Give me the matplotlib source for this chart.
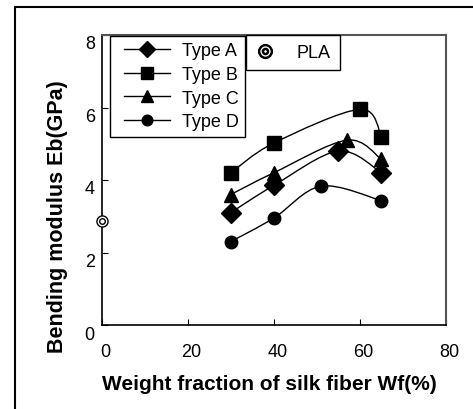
import numpy as np
import matplotlib
matplotlib.use("Agg")
import matplotlib.pyplot as plt
from matplotlib.path import Path
from matplotlib.patches import PathPatch, Rectangle
from matplotlib.lines import Line2D
from matplotlib.legend_handler import HandlerLine2D
from matplotlib.transforms import ScaledTranslation

plt.rcParams['font.family'] = ['Liberation Sans', 'DejaVu Sans']

# ---- data ----
series_names = ["Type A", "Type B", "Type C", "Type D"]
x_A = [30, 40, 55, 65]
y_A = [3.1, 3.85, 4.8, 4.2]
x_B = [30, 40, 60, 65]
y_B = [4.2, 5.02, 5.95, 5.2]
x_C = [30, 40, 57, 65]
y_C = [3.6, 4.2, 5.1, 4.57]
x_D = [30, 40, 51, 65]
y_D = [2.3, 2.95, 3.83, 3.43]
pla_x = [0]
pla_y = [2.88]
x_ticks = [0, 20, 40, 60, 80]
y_ticks = [0, 2, 4, 6, 8]

W, H = 473, 410
fig = plt.figure(figsize=(W / 100, H / 100), dpi=100)
ax = fig.add_axes([101.7 / W, 1 - 326 / H, (446 - 101.7) / W, (326 - 36) / H])
ax.set_xlim(0, 80)
ax.set_ylim(0, 8)


def smooth_path(xs, ys, t=1 / 6):
    pts = np.column_stack([xs, ys]).astype(float)
    n = len(pts)
    verts = [pts[0]]
    codes = [Path.MOVETO]
    for i in range(n - 1):
        p0 = pts[i - 1] if i > 0 else pts[i]
        p1 = pts[i]
        p2 = pts[i + 1]
        p3 = pts[i + 2] if i + 2 < n else pts[i + 1]
        c1 = p1 + (p2 - p0) * t
        c2 = p2 - (p3 - p1) * t
        verts += [c1, c2, p2]
        codes += [Path.CURVE4] * 3
    return Path(verts, codes)


styles = [("D", 10), ("s", 9.5), ("^", 10.5), ("o", 9)]
data = [(x_A, y_A), (x_B, y_B), (x_C, y_C), (x_D, y_D)]
handles = []
for (xs, ys), (m, ms), name in zip(data, styles, series_names):
    ax.add_patch(PathPatch(smooth_path(xs, ys), fill=False, edgecolor='black', lw=1.0, zorder=2))
    ax.plot(xs, ys, linestyle='none', marker=m, markersize=ms, color='black', zorder=3, clip_on=False)
    handles.append(Line2D([], [], color='black', lw=1.0, marker=m, markersize=ms * 0.85, label=name))

# PLA double-circle marker
ax.plot(pla_x, pla_y, linestyle='none', marker='o', markersize=8, markerfacecolor='white',
        markeredgecolor='black', markeredgewidth=1.0, clip_on=False, zorder=4)
ax.plot(pla_x, pla_y, linestyle='none', marker='o', markersize=4, markerfacecolor='none',
        markeredgecolor='black', markeredgewidth=1.0, clip_on=False, zorder=5)

ax.set_xticks(x_ticks)
ax.set_yticks(y_ticks)
ax.tick_params(direction='in', length=4, width=0.8, labelsize=13, color='black')
ax.tick_params(axis='y', pad=5)
ax.tick_params(axis='x', pad=13)
for lab in ax.get_yticklabels():
    lab.set_transform(lab.get_transform() + ScaledTranslation(0, -0.07, fig.dpi_scale_trans))
for lab in ax.get_xticklabels():
    lab.set_transform(lab.get_transform() + ScaledTranslation(0.035, 0, fig.dpi_scale_trans))

for s in ['left', 'bottom']:
    ax.spines[s].set_color('black')
    ax.spines[s].set_linewidth(1.2)
for s in ['top', 'right']:
    ax.spines[s].set_color('#555555')
    ax.spines[s].set_linewidth(1.5)

ax.set_xlabel("Weight fraction of silk fiber Wf(%)", fontsize=15, fontweight='bold')
ax.set_ylabel("Bending modulus Eb(GPa)", fontsize=15.5, fontweight='bold')
ax.xaxis.set_label_coords((269 - 101.7) / 344.3, -(385 - 326) / 290)
ax.xaxis.label.set_va('center')
ax.yaxis.set_label_coords((57 - 101.7) / 344.3, 1 - (217 - 36) / 290)
ax.yaxis.label.set_va('center')

leg1 = ax.legend(handles=handles, loc='upper left', bbox_to_anchor=(110 / W, 1 - 37 / H),
                 bbox_transform=fig.transFigure, borderaxespad=0, fontsize=13,
                 frameon=True, fancybox=False, edgecolor='black', framealpha=1,
                 handlelength=2.97, handletextpad=0.66, labelspacing=0.37, borderpad=0.35,
                 handler_map={Line2D: HandlerLine2D(xpad=0.43)})
leg1.get_frame().set_linewidth(1.0)
ax.add_artist(leg1)

pla_handle = Line2D([], [], linestyle='none', marker='$\u25CE$', markersize=10, color='black', label='PLA')
leg2 = ax.legend(handles=[pla_handle], loc='upper left', bbox_to_anchor=(246 / W, 1 - 36 / H),
                 bbox_transform=fig.transFigure, borderaxespad=0, fontsize=13,
                 frameon=True, fancybox=False, edgecolor='black', framealpha=1,
                 handlelength=1.1, handletextpad=1.2, borderpad=0.5)
leg2.get_frame().set_linewidth(1.0)

# outer frame
fig.add_artist(Rectangle((15 / W, -0.1), 1.2, 1 - 8 / H + 0.1, transform=fig.transFigure,
                         fill=False, edgecolor='black', lw=1.5))

fig.savefig("out.png", dpi=100)
